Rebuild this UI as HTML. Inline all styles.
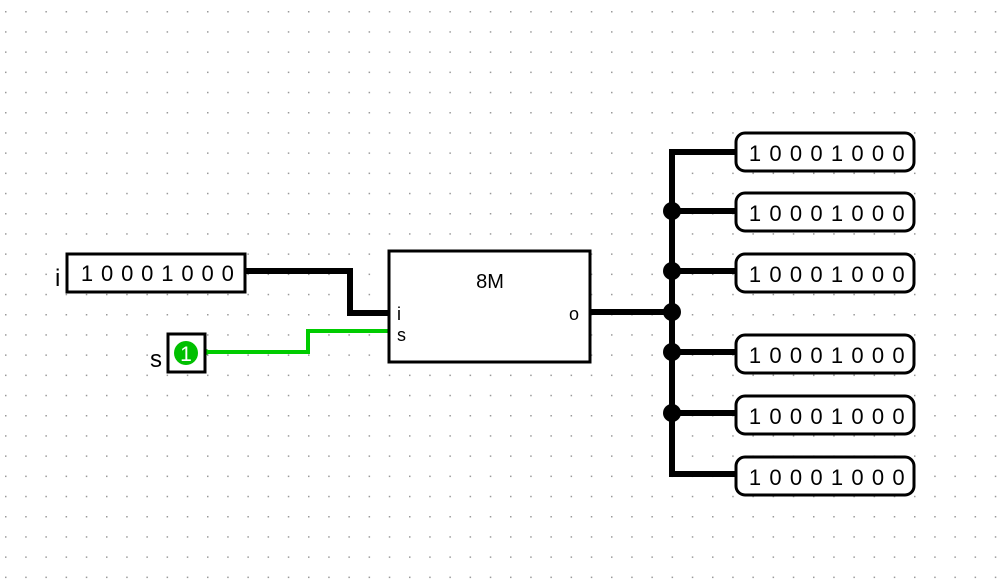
<!DOCTYPE html>
<html><head><style>body{margin:0;background:#fff}svg{display:block}</style></head><body>
<svg width="997" height="585" xmlns="http://www.w3.org/2000/svg" font-family="Liberation Sans, sans-serif">
<defs><pattern id="g" x="5" y="11" width="20.2" height="20.2" patternUnits="userSpaceOnUse"><rect width="1.5" height="1.5" fill="#999"/></pattern></defs>
<rect width="997" height="585" fill="url(#g)"/>
<g fill="none" stroke="#000" stroke-width="6" stroke-linejoin="miter">
<polyline points="246,271 350,271 350,313 390,313"/>
<polyline points="590,312 672,312"/>
<polyline points="737,152 672,152 672,474 737,474"/>
<line x1="672" y1="211" x2="737" y2="211"/><line x1="672" y1="271" x2="737" y2="271"/>
<line x1="672" y1="352" x2="737" y2="352"/><line x1="672" y1="413" x2="737" y2="413"/>
</g>
<polyline points="206,352 308,352 308,331 390,331" fill="none" stroke="#00cc00" stroke-width="4"/>
<g fill="#000"><circle cx="672" cy="211" r="9"/><circle cx="672" cy="271" r="9"/><circle cx="672" cy="312" r="9"/><circle cx="672" cy="352" r="9"/><circle cx="672" cy="413" r="9"/><circle cx="246" cy="271" r="3"/><circle cx="590" cy="312" r="3"/><circle cx="390" cy="313" r="3"/></g>
<circle cx="390" cy="331" r="3" fill="#00cc00"/><circle cx="206" cy="352" r="3" fill="#00cc00"/>
<g fill="#fff" stroke="#000" stroke-width="3">
<rect x="67" y="254" width="178" height="38"/>
<rect x="168" y="334" width="37" height="38"/>
<rect x="389" y="251" width="201" height="111"/>
<rect x="736" y="133" width="178" height="38" rx="9"/>
<rect x="736" y="193" width="178" height="38" rx="9"/>
<rect x="736" y="254" width="178" height="38" rx="9"/>
<rect x="736" y="335" width="178" height="38" rx="9"/>
<rect x="736" y="396" width="178" height="38" rx="9"/>
<rect x="736" y="457" width="178" height="38" rx="9"/>
</g>
<circle cx="186" cy="353" r="12" fill="#00c000"/>
<text x="186" y="361" font-size="21" fill="#fff" text-anchor="middle">1</text>
<g font-size="24" fill="#000">
<text x="55" y="286">i</text><text x="150" y="367">s</text>
<text x="490" y="288" font-size="20" text-anchor="middle">8M</text>
<text x="397" y="320" font-size="18">i</text><text x="397" y="341" font-size="18">s</text><text x="569" y="320" font-size="18">o</text>
<g font-size="22" text-anchor="middle">
<text x="87 107.1 127.2 147.3 167.4 187.5 207.6 227.7" y="281">10001000</text>
<text x="755 775.5 796 816.5 837 857.5 878 898.5" y="161">10001000</text>
<text x="755 775.5 796 816.5 837 857.5 878 898.5" y="221">10001000</text>
<text x="755 775.5 796 816.5 837 857.5 878 898.5" y="282">10001000</text>
<text x="755 775.5 796 816.5 837 857.5 878 898.5" y="363">10001000</text>
<text x="755 775.5 796 816.5 837 857.5 878 898.5" y="424">10001000</text>
<text x="755 775.5 796 816.5 837 857.5 878 898.5" y="485">10001000</text>
</g></g>
</svg>
</body></html>
